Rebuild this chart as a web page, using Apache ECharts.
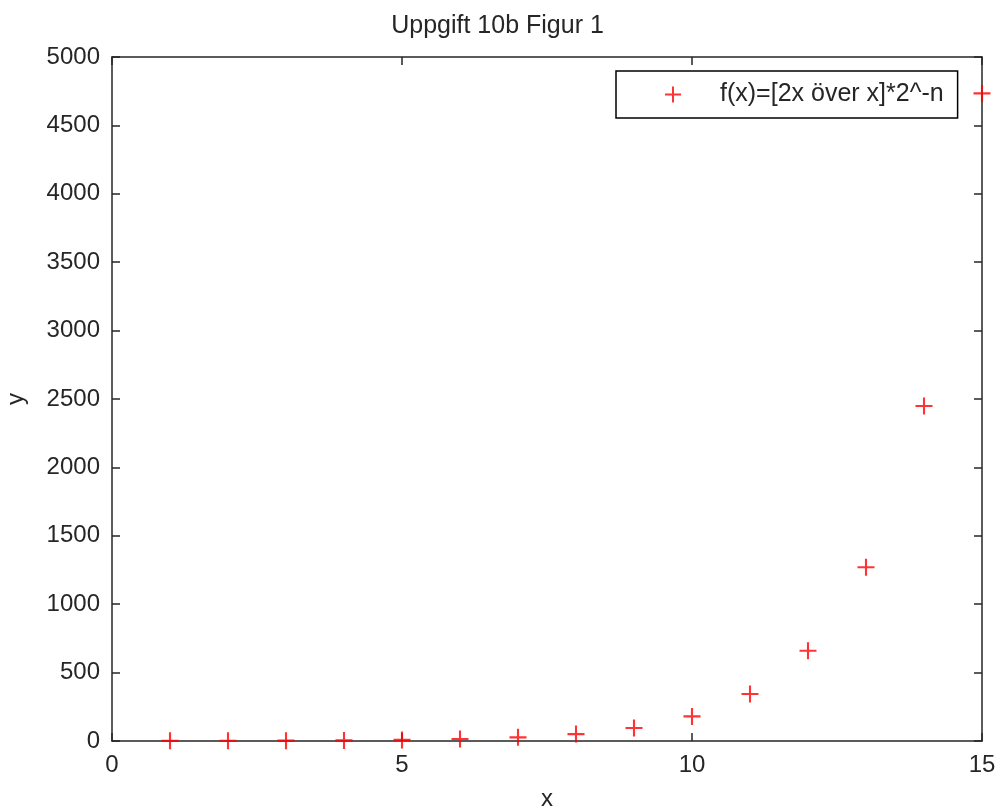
<!DOCTYPE html>
<html><head><meta charset="utf-8">
<script src="https://cdn.jsdelivr.net/npm/echarts@6/dist/echarts.min.js"></script>
<style>html,body{margin:0;padding:0;background:#fff}#c{width:995px;height:807px}</style>
</head><body><div id="c"></div>
<script>
const xValues = [1,2,3,4,5,6,7,8,9,10,11,12,13,14,15];
const yValues = [1,1.5,2.5,4.4,7.9,14.4,26.8,50.3,95,180,344,660,1270,2449,4734];
const xTicks = [0,5,10,15];
const yTicks = [0,500,1000,1500,2000,2500,3000,3500,4000,4500,5000];
const titleText = 'Uppgift 10b Figur 1';
const seriesName = 'f(x)=[2x över x]*2^-n';

const FONT = '"Liberation Sans", Arial, sans-serif';
const PLUS = 'path://M7,0H9V16H7ZM0,7H16V9H0Z';
const axisCommon = {
  axisLine: {show: true, onZero: false, lineStyle: {color: '#262626', width: 1.5}},
  axisTick: {show: true, inside: true, length: 8, lineStyle: {color: '#262626', width: 1.5}},
  splitLine: {show: false}
};
const chart = echarts.init(document.getElementById('c'));
chart.setOption({
  animation: false,
  backgroundColor: '#fff',
  title: {text: titleText, left: 'center', top: 9,
    textStyle: {fontFamily: FONT, fontSize: 25, fontWeight: 'normal', color: '#262626'}},
  legend: {
    left: 616, top: 71, orient: 'horizontal',
    borderColor: '#000', borderWidth: 1.5, backgroundColor: '#fff',
    padding: [11, 14, 11, 49],
    itemWidth: 16, itemHeight: 16,
    icon: PLUS,
    textStyle: {fontFamily: FONT, fontSize: 25, color: '#262626', padding: [0,0,0,34]},
    data: [{name: seriesName, icon: PLUS, itemStyle: {color: '#ff0000'}}]
  },
  grid: {left: 112, right: 13, top: 57, bottom: 66, containLabel: false, outerBoundsMode: 'none'},
  xAxis: [
    Object.assign({type: 'value', min: 0, max: 15, interval: 5, position: 'bottom',
      name: 'x', nameLocation: 'middle', nameGap: 46,
      nameTextStyle: {fontFamily: FONT, fontSize: 24, color: '#262626'},
      axisLabel: {fontFamily: FONT, fontSize: 24, color: '#262626', margin: 12,
        formatter: v => xTicks.includes(v) ? String(v) : ''}}, axisCommon),
    Object.assign({type: 'value', min: 0, max: 15, interval: 5, position: 'top',
      axisLabel: {show: false}}, axisCommon)
  ],
  yAxis: [
    Object.assign({type: 'value', min: 0, max: 5000, interval: 500, position: 'left',
      name: 'y', nameLocation: 'middle', nameGap: 84, nameRotate: 90,
      nameTextStyle: {fontFamily: FONT, fontSize: 24, color: '#262626'},
      axisLabel: {fontFamily: FONT, fontSize: 24, color: '#262626', margin: 12,
        formatter: v => yTicks.includes(v) ? String(v) : ''}}, axisCommon),
    Object.assign({type: 'value', min: 0, max: 5000, interval: 500, position: 'right',
      axisLabel: {show: false}}, axisCommon)
  ],
  series: [{
    name: seriesName, type: 'scatter', clip: false,
    symbol: PLUS, symbolSize: 17,
    itemStyle: {color: '#ff0000'},
    data: xValues.map((x, i) => [x, yValues[i]]),
    z: 5
  }]
});
</script></body></html>
